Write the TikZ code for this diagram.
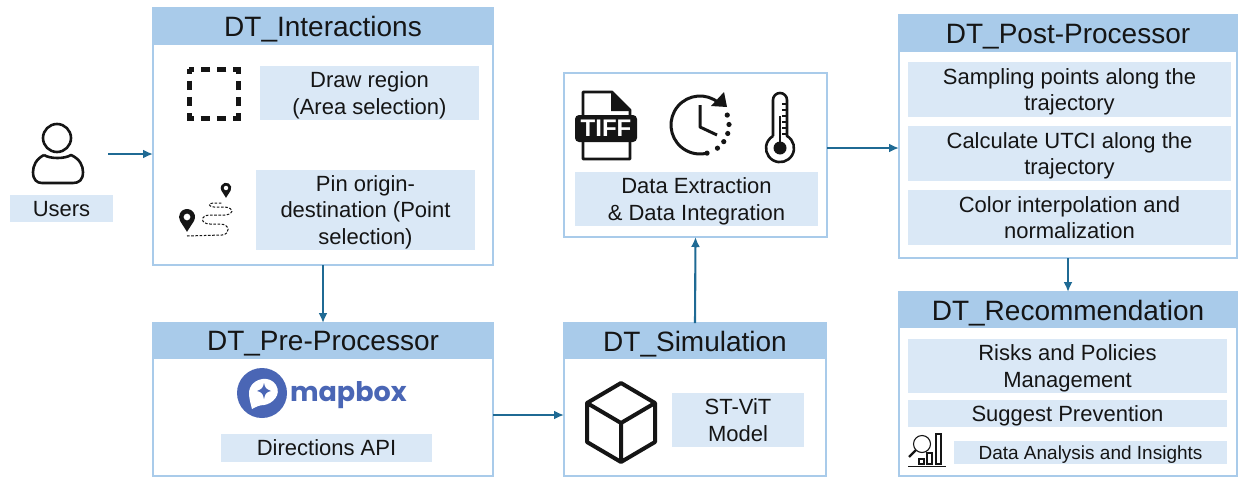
\documentclass[tikz,border=0pt]{standalone}
\usepackage{fontspec}
\setmainfont{Liberation Sans}
\newfontfamily\logofont{Poppins}
\usetikzlibrary{arrows.meta}
\definecolor{headblue}{HTML}{A9CBEA}
\definecolor{barblue}{HTML}{DAE8F6}
\definecolor{flowblue}{HTML}{1F6A94}
\definecolor{logoblue}{HTML}{4A66B5}
\definecolor{inkblack}{HTML}{151515}
\tikzset{
  >={Latex[length=10pt,width=9pt]},
  mappin/.pic={
    \fill[inkblack] (0,1.85)--(.87,.5) arc[start angle=30,end angle=-210,radius=1]--cycle;
    \fill[white] (0,0) circle (.42);
  },
}
\tikzstyle{every node}=[font=\fontsize{22}{26.5}\selectfont,text=inkblack,inner sep=0pt,outer sep=0pt,align=center,anchor=north west,text depth=0pt]
\tikzstyle{panel}=[draw=headblue,line width=2.4pt,fill=white]
\tikzstyle{header}=[fill=headblue,font=\fontsize{28}{32}\selectfont]
\tikzstyle{bar}=[fill=barblue]
\tikzstyle{flow}=[->,flowblue,line width=2.1pt]
\tikzstyle{icon}=[inkblack,line width=2.6pt,line join=round]

\begin{document}
\begin{tikzpicture}[x=1pt,y=-1pt]
  \useasboundingbox (0,0) rectangle (1238,477);

  % panels
  \node[panel,minimum width=340pt,minimum height=257pt] (interbox) at (153,8) {};
  \node[panel,minimum width=340pt,minimum height=153pt] (prebox) at (153,323) {};
  \node[panel,minimum width=262pt,minimum height=153pt] (simbox) at (564,323) {};
  \node[panel,minimum width=263pt,minimum height=164pt] (databox) at (564,73) {};
  \node[panel,minimum width=338pt,minimum height=243pt] (postbox) at (899,15) {};
  \node[panel,minimum width=338pt,minimum height=184pt] (recbox) at (899,292) {};

  % headers
  \node[header,minimum width=340pt,minimum height=37pt] (intertitle) at (153,8) {DT\_Interactions};
  \node[header,minimum width=340pt,minimum height=36pt] (pretitle) at (153,323) {DT\_Pre-Processor};
  \node[header,minimum width=262pt,minimum height=36pt] (simtitle) at (564,323) {DT\_Simulation};
  \node[header,minimum width=338pt,minimum height=37pt] (posttitle) at (899,15) {DT\_Post-Processor};
  \node[header,minimum width=338pt,minimum height=36pt] (rectitle) at (899,292) {DT\_Recommendation};

  % text bars
  \node[bar,minimum width=103pt,minimum height=27pt] (users) at (10,195) {Users};
  \node[bar,minimum width=219pt,minimum height=54pt] (drawbar) at (260,66) {Draw region\\(Area selection)};
  \node[bar,minimum width=219pt,minimum height=80pt] (pinbar) at (256,170) {Pin origin-\\destination (Point\\selection)};
  \node[bar,minimum width=211pt,minimum height=28pt] (apibar) at (221,434) {Directions API};
  \node[bar,minimum width=132pt,minimum height=54pt] (vitbar) at (672,393) {ST-ViT\\Model};
  \node[bar,minimum width=243pt,minimum height=54pt] (databar) at (575,172) {Data Extraction\\\& Data Integration};
  \node[bar,minimum width=323pt,minimum height=55pt] (samplebar) at (908,62) {Sampling points along the\\trajectory};
  \node[bar,minimum width=323pt,minimum height=55pt] (utcibar) at (908,126) {Calculate UTCI along the\\trajectory};
  \node[bar,minimum width=323pt,minimum height=55pt] (colorbar) at (908,190) {Color interpolation and\\normalization};
  \node[bar,minimum width=319pt,minimum height=54pt] (riskbar) at (908,339) {Risks and Policies\\Management};
  \node[bar,minimum width=319pt,minimum height=27pt] (suggestbar) at (908,400) {Suggest Prevention};
  \node[bar,minimum width=273pt,minimum height=23pt,font=\fontsize{19}{23}\selectfont] (insightbar) at (954,441) {Data Analysis and Insights};

  % connectors
  \coordinate (usersout) at (108,154);
  \coordinate (postin) at (899,148);
  \draw[flow] (usersout)--(usersout-|interbox.west);
  \draw[flow] (interbox.south)--(prebox.north);
  \draw[flow] ([yshift=-15.5pt]prebox.east)--([yshift=-15.5pt]simbox.west);
  \draw[flow] (simbox.north)--(databox.south);
  \draw[flow] (postin-|databox.east)--(postin);
  \draw[flow] (postbox.south)--(recbox.north);

  % user
  \draw[icon] (57,138) circle (14);
  \draw[icon] (44,155) .. controls (36,159) and (33,166) .. (33,172)
    .. controls (33,180) and (37,183) .. (42,183)--(73,183)
    .. controls (79,183) and (83,180) .. (83,172)
    .. controls (83,166) and (80,159) .. (71,155)
    .. controls (65,159) and (50,159) .. (44,155);

  % draw region
  \draw[inkblack,line width=5pt,dash pattern=on 9.5pt off 6.83pt,dash phase=4.75pt]
    (189,69) rectangle (238,118);

  % route
  \pic[scale=8] at (187,217) {mappin};
  \pic[scale=5.3] at (226,188) {mappin};
  \draw[inkblack,line width=1pt,dash pattern=on 2.6pt off 1.6pt]
    (187,236)--(222,235) .. controls (231,234) and (230,224) .. (220,224)--(210,224)
    .. controls (200,224) and (200,215) .. (210,215)--(225,215)
    .. controls (235,214) and (234,208) .. (225,207)--(214,207)
    .. controls (207,206) and (208,203) .. (215,203)--(222,203);

  % mapbox logo
  \fill[logoblue] (262,393) circle (25);
  \fill[white] (252,409) .. controls (249,398) and (248,392) .. (250,388)
    .. controls (254,378) and (270,375) .. (276,385)
    .. controls (282,395) and (272,404) .. (264,405)
    .. controls (259,405) and (256,407) .. (252,409)--cycle;
  \fill[logoblue] (264,383) .. controls (265,388) and (266,389) .. (271,391)
    .. controls (266,392) and (265,394) .. (264,399)
    .. controls (263,394) and (262,392) .. (257,391)
    .. controls (262,389) and (263,388) .. (264,383)--cycle;
  \node[font=\logofont\bfseries\fontsize{27}{30}\selectfont,text=logoblue,anchor=base west] (logotext) at (290,401) {mapbox};

  % cube
  \draw[inkblack,line width=4pt,line join=round]
    (621,383)--(655,403)--(655,442)--(621,462)--(587,442)--(587,403)--cycle
    (587,403)--(621,423)--(655,403) (621,423)--(621,462);

  % tiff file
  \draw[icon,line width=2.8pt] (583,115)--(583,92)--(612,92)--(630,110)--(630,115)
    (630,142)--(630,159)--(583,159)--(583,142);
  \fill[inkblack] (611,91)--(631,111)--(611,111)--cycle;
  \node[fill=inkblack,rounded corners=4pt,minimum width=62pt,minimum height=27pt,text=white,
    font=\bfseries\fontsize{24}{26}\selectfont] (tiffband) at (575,115) {TIFF};

  % clock
  \draw[icon,line width=3pt] (700,125)++(-50:29) arc[start angle=-50,end angle=-280,radius=29];
  \fill[inkblack] (727,107)--(711,106)--(724,92)--cycle;
  \draw[icon,line width=3pt] (700,105)--(700,127)--(717,135);
  \foreach \ang in {76,53,35,17,-1,-20}
    \fill[inkblack] (700,125)++(\ang:29) circle (2.6);

  % thermometer
  \draw[icon] (773,136)--(773,100) arc[start angle=180,end angle=360,radius=7]--(787,136)
    arc[start angle=-60,end angle=240,radius=14];
  \fill[inkblack] (780,148) circle (6.5);
  \draw[inkblack,line width=2.6pt] (780,116)--(780,148);
  \foreach \tick in {104,110,116,122,128,134}
    \draw[inkblack,line width=1.1pt] (782,\tick)--(786,\tick);

  % insights
  \draw[inkblack,line width=1.1pt] (922,444) circle (8.5);
  \draw[inkblack,line width=2.2pt] (916,450)--(909,457);
  \draw[inkblack,line width=1.2pt] (908,466.5)--(946,466.5)
    (919,464) rectangle (924,459) (927,464) rectangle (932,453) (936,464) rectangle (941,434);
\end{tikzpicture}
\end{document}
